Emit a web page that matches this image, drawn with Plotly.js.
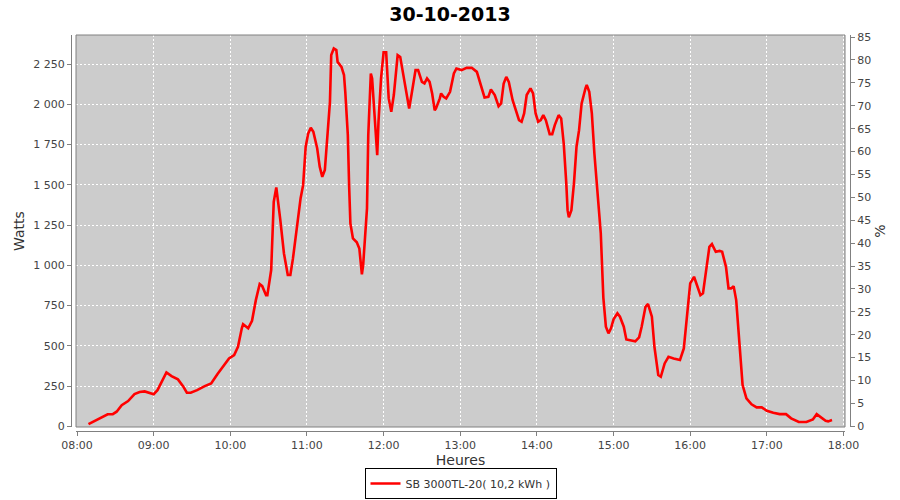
<!DOCTYPE html>
<html>
<head>
<meta charset="utf-8">
<script src="https://cdn.plot.ly/plotly-3.0.1.min.js"></script>
<style>html,body{margin:0;padding:0;background:#fff;}#chart{width:900px;height:500px;}</style>
</head>
<body>
<div id="chart"></div>
<script>
var chartDate = '2013-10-30';
var chartTitle = '30-10-2013';
var seriesName = 'SB 3000TL-20( 10,2 kWh )';

var times = [
'08:09','08:19','08:24','08:28','08:31','08:35','08:40','08:45','08:49','08:53','08:57',
'09:00','09:03','09:07','09:10','09:14','09:19','09:23','09:26','09:29','09:34','09:40','09:45','09:50','09:55','09:59',
'10:03','10:06','10:09','10:10','10:14','10:17','10:20','10:23','10:25','10:28','10:29','10:32','10:34','10:36','10:39',
'10:42','10:45','10:47','10:49','10:52','10:55','10:57','10:59',
'11:01','11:03','11:05','11:08','11:10','11:12','11:14','11:16','11:18','11:19','11:21','11:23','11:24','11:27','11:29',
'11:30','11:32','11:33','11:34','11:36','11:39','11:41','11:42','11:43','11:44','11:47','11:48','11:50','11:51','11:53',
'11:55','11:56','11:58',
'12:00','12:02','12:04','12:06','12:08','12:10','12:11','12:13','12:15','12:18','12:20','12:22','12:24','12:25','12:27',
'12:30','12:32','12:34','12:36','12:38','12:40','12:41','12:44','12:45','12:47','12:49','12:52','12:55','12:57',
'13:01','13:05','13:09','13:13','13:15','13:19','13:22','13:24','13:27','13:30','13:32','13:34','13:36','13:38','13:41',
'13:43','13:46','13:48','13:50','13:52','13:55','13:57','13:59',
'14:01','14:03','14:05','14:07','14:10','14:12','14:14','14:17','14:19','14:21','14:23','14:24','14:25','14:27','14:29',
'14:31','14:33','14:35','14:38','14:39','14:41','14:43','14:45','14:47','14:50','14:52','14:54','14:56','14:58',
'15:00','15:03','15:05','15:08','15:10','15:14','15:17','15:20','15:22','15:25','15:27','15:30','15:32','15:35','15:37',
'15:40','15:43','15:47','15:52','15:55','15:58',
'16:00','16:03','16:06','16:08','16:10','16:13','16:15','16:17','16:20','16:23','16:25','16:28','16:30','16:32','16:34',
'16:36','16:38','16:40','16:41','16:44','16:48','16:52','16:56',
'17:00','17:05','17:10','17:15','17:19','17:25','17:31','17:36','17:39','17:42','17:46','17:48','17:51'
];

var watts = [
14,56,75,76,91,132,157,200,213,217,209,
200,225,288,335,312,292,250,209,209,225,250,267,325,381,422,
443,494,609,635,609,656,784,884,871,815,815,971,1395,1484,1292,
1074,940,940,1040,1240,1416,1498,1737,
1820,1855,1830,1727,1612,1550,1592,1809,2016,2306,2347,2337,2264,2233,2182,
2078,1809,1498,1261,1167,1143,1105,1002,944,1002,1354,1809,2192,2161,1913,
1685,1892,2161,
2323,2323,2037,1954,2058,2244,2306,2295,2202,2068,1975,2068,2151,2213,2213,
2140,2130,2161,2140,2068,1964,1975,2037,2068,2047,2037,2078,2192,2223,
2213,2227,2227,2202,2151,2043,2047,2093,2058,1989,2006,2130,2171,2140,2026,
1975,1902,1892,1944,2058,2099,2068,1944,
1892,1902,1933,1902,1815,1815,1871,1933,1913,1757,1509,1343,1298,1343,1509,
1737,1840,2006,2099,2120,2078,1944,1695,1488,1199,800,619,578,609,
665,702,681,619,540,532,528,553,619,743,760,681,494,319,308,
391,432,422,412,484,702,
888,929,867,815,826,991,1115,1132,1084,1090,1084,991,857,857,871,
784,578,350,256,174,137,118,118,
97,84,76,76,50,27,27,43,76,60,35,31,39
];

var xTickLabels = ['08:00','09:00','10:00','11:00','12:00','13:00','14:00','15:00','16:00','17:00','18:00'];
var wattTicks = [0,250,500,750,1000,1250,1500,1750,2000,2250];
var wattTickLabels = ['0','250','500','750','1 000','1 250','1 500','1 750','2 000','2 250'];
var pctTicks = [0,5,10,15,20,25,30,35,40,45,50,55,60,65,70,75,80,85];

var xs = times.map(function(t){ return chartDate + ' ' + t; });
var xTickVals = xTickLabels.map(function(t){ return chartDate + ' ' + t; });

var tickFont = {family: 'DejaVu Sans, sans-serif', size: 11, color: '#444444'};
var titleFont = {family: 'DejaVu Sans, sans-serif', size: 14, color: '#333333'};

var traces = [
  {
    x: xs, y: watts, type: 'scatter', mode: 'lines', name: seriesName,
    line: {color: '#ff0000', width: 2.6, shape: 'linear'},
    xaxis: 'x', yaxis: 'y', hoverinfo: 'skip'
  },
  {
    x: [xs[0]], y: [null], type: 'scatter', mode: 'lines', showlegend: false,
    xaxis: 'x', yaxis: 'y2', hoverinfo: 'skip'
  }
];

var layout = {
  width: 900, height: 500,
  paper_bgcolor: '#ffffff',
  plot_bgcolor: '#cccccc',
  margin: {l: 71, r: 50, t: 35, b: 69, pad: 0, autoexpand: false},
  title: {text: '<b>' + chartTitle + '</b>', font: {family: 'DejaVu Sans, sans-serif', size: 19, color: '#000000'}, x: 0.5, xanchor: 'center', y: 0.972, yanchor: 'middle'},
  showlegend: true,
  legend: {
    orientation: 'h', x: 0.5, xanchor: 'center', y: -0.1717, yanchor: 'bottom',
    bordercolor: '#000000', borderwidth: 1, bgcolor: '#ffffff',
    font: {family: 'DejaVu Sans, sans-serif', size: 11, color: '#333333'},
    itemwidth: 30, tracegroupgap: 0
  },
  xaxis: {
    type: 'date', domain: [5/779, 1 - 5/779],
    range: [chartDate + ' 07:59:13', chartDate + ' 18:01:10'],
    anchor: 'free', position: 0, automargin: false,
    tickmode: 'array', tickvals: xTickVals, ticktext: xTickLabels,
    ticks: 'outside', ticklen: 4, tickcolor: '#808080', tickwidth: 1,
    showline: true, linecolor: '#808080', linewidth: 1,
    showgrid: true, gridcolor: '#ffffff', gridwidth: 1, griddash: '2px,2px',
    zeroline: false, tickfont: tickFont,
    title: {text: 'Heures', font: titleFont, standoff: 3}
  },
  yaxis: {
    domain: [4/396, 1],
    range: [-4, 2431],
    anchor: 'free', position: 0, automargin: false,
    tickmode: 'array', tickvals: wattTicks, ticktext: wattTickLabels,
    ticks: 'outside', ticklen: 4, tickcolor: '#808080', tickwidth: 1,
    showline: true, linecolor: '#808080', linewidth: 1,
    showgrid: true, gridcolor: '#ffffff', gridwidth: 1, griddash: '2px,2px',
    zeroline: false, tickfont: tickFont,
    title: {text: 'Watts', font: titleFont, standoff: 4}
  },
  yaxis2: {
    overlaying: 'y', side: 'right',
    range: [-0.15, 85.45],
    anchor: 'free', position: 1, automargin: false,
    tickmode: 'array', tickvals: pctTicks,
    ticks: 'outside', ticklen: 4, tickcolor: '#808080', tickwidth: 1,
    showline: true, linecolor: '#808080', linewidth: 1,
    showgrid: false, zeroline: false, tickfont: tickFont,
    title: {text: '%', font: titleFont, standoff: 4}
  },
  shapes: [
    {type: 'rect', xref: 'x domain', yref: 'y domain', x0: 0, x1: 1, y0: 0, y1: 1,
     line: {color: '#808080', width: 1}, fillcolor: 'rgba(0,0,0,0)', layer: 'above'}
  ]
};

Plotly.newPlot('chart', traces, layout, {displayModeBar: false, staticPlot: true});
</script>
</body>
</html>
